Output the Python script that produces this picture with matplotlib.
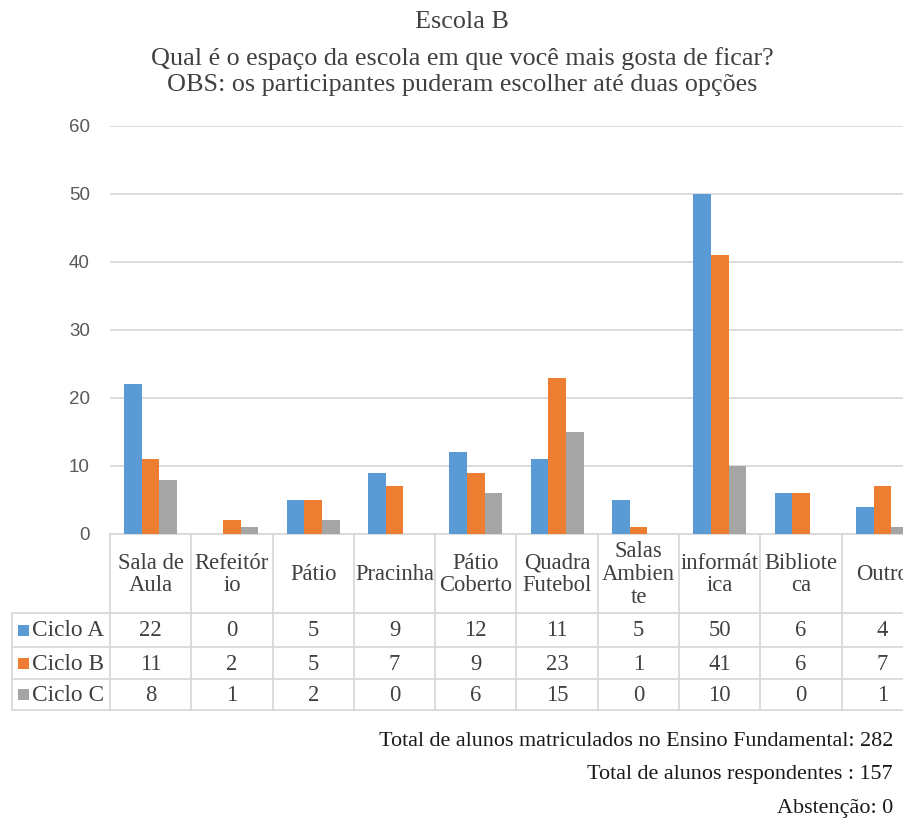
import matplotlib
matplotlib.use("Agg")
import matplotlib.pyplot as plt
from matplotlib.patches import Rectangle

# Survey data: favourite school spaces by cycle
categories = ["Sala de\nAula", "Refeitór\nio", "Pátio", "Pracinha", "Pátio\nCoberto",
              "Quadra\nFutebol", "Salas\nAmbien\nte", "informát\nica", "Bibliote\nca", "Outro"]
series_names = ["Ciclo A", "Ciclo B", "Ciclo C"]
ciclo_a = [22, 0, 5, 9, 12, 11, 5, 50, 6, 4]
ciclo_b = [11, 2, 5, 7, 9, 23, 1, 41, 6, 7]
ciclo_c = [8, 1, 2, 0, 6, 15, 0, 10, 0, 1]
y_ticks = [0, 10, 20, 30, 40, 50, 60]

title_lines = ["Escola B",
               "Qual é o espaço da escola em que você mais gosta de ficar?",
               "OBS: os participantes puderam escolher até duas opções"]
notes = ["Total de alunos matriculados no Ensino Fundamental: 282",
         "Total de alunos respondentes : 157",
         "Abstenção: 0"]

colors = ["#5B9BD5", "#ED7D31", "#A5A5A5"]
grid_c = "#D9D9D9"
text_c = "#404040"
serif = ["Liberation Serif", "DejaVu Serif"]
sans = ["Liberation Sans", "DejaVu Sans"]

W, H = 904, 823
fig = plt.figure(figsize=(W / 100, H / 100), dpi=100)


def rect(x0, y0, x1, y1):
    return [x0 / W, 1 - y1 / H, (x1 - x0) / W, (y1 - y0) / H]


# plot area (wider than the canvas, so the last category is cut at the edge)
ax = fig.add_axes(rect(110, 126, 923, 534))
n = len(categories)
series = [ciclo_a, ciclo_b, ciclo_c]
bw = 0.217
for i, (vals, col) in enumerate(zip(series, colors)):
    xs = [k + 0.5 + (i - 1) * bw for k in range(n)]
    ax.bar(xs, vals, width=bw, color=col, linewidth=0, zorder=3)

ax.set_xlim(0, n)
ax.set_ylim(0, 60)
ax.set_yticks(y_ticks)
ax.set_xticks([])
ax.yaxis.grid(True, color=grid_c, linewidth=1.3)
ax.set_axisbelow(True)
for s in ["top", "right", "left"]:
    ax.spines[s].set_visible(False)
ax.spines["bottom"].set_color(grid_c)
ax.spines["bottom"].set_linewidth(1.3)
ax.tick_params(axis="y", length=0, pad=14.5, labelsize=13.5, labelcolor="#595959")
for lab in ax.get_yticklabels():
    lab.set_fontfamily(sans)

# overlay in pixel coordinates for the data table and texts
ov = fig.add_axes([0, 0, 1, 1], zorder=5)
ov.set_xlim(0, W)
ov.set_ylim(H, 0)
ov.axis("off")

fig.canvas.draw()


def xpix(v):
    return ax.transData.transform((v, 0))[0]


bounds = [xpix(k) for k in range(n + 1)]
y_axis = H - ax.transData.transform((0, 0))[1]
row_edges = [y_axis, 613, 647, 679, 710]
left_edge = 12
lw = 1.3
fs = 16.3

# table grid lines
for y in row_edges[1:]:
    ov.plot([left_edge, W + 50], [y, y], color=grid_c, lw=lw, solid_capstyle="butt")
ov.plot([left_edge, left_edge], [row_edges[1], row_edges[-1]], color=grid_c, lw=lw)
for b in bounds:
    ov.plot([b, b], [row_edges[0], row_edges[-1]], color=grid_c, lw=lw)

# header row: category names
hy = (row_edges[0] + row_edges[1]) / 2
for k, cat in enumerate(categories):
    cx = (bounds[k] + bounds[k + 1]) / 2
    ov.text(cx, hy + 1, cat, ha="center", va="center", fontsize=fs,
            family=serif, color=text_c, linespacing=1.1)

# value rows with legend keys
for r, (name, vals, col) in enumerate(zip(series_names, series, colors)):
    ry = (row_edges[r + 1] + row_edges[r + 2]) / 2
    ov.add_patch(Rectangle((18, ry - 5.5), 11, 11, color=col, linewidth=0))
    ov.text(32, ry + 1, name, ha="left", va="center", fontsize=16.8,
            family=serif, color=text_c)
    for k, v in enumerate(vals):
        cx = (bounds[k] + bounds[k + 1]) / 2
        ov.text(cx, ry + 1, str(v), ha="center", va="center", fontsize=fs,
                family=serif, color=text_c)

# title
for t, y in zip(title_lines, [22, 59, 85]):
    ov.text(462, y, t, ha="center", va="center", fontsize=18.8,
            family=serif, color=text_c)

# footnotes
for t, y in zip(notes, [741, 774, 809]):
    ov.text(893, y, t, ha="right", va="center", fontsize=15.9,
            family=serif, color="#1a1a1a")

fig.savefig("out.png", dpi=100)
